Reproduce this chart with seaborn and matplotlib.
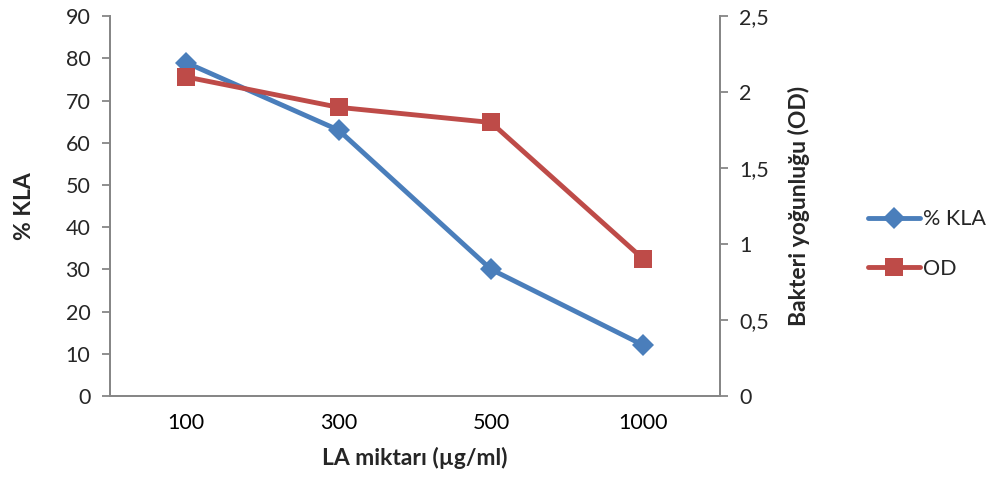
import matplotlib
matplotlib.use("Agg")
import matplotlib.pyplot as plt
from matplotlib.ticker import FixedLocator, NullFormatter, FuncFormatter
import seaborn as sns
import pandas as pd

# LA amounts (µg/ml) and measured values
categories = ["100", "300", "500", "1000"]
kla_values = [79, 63, 30, 12]
od_values = [2.1, 1.9, 1.8, 0.9]

sns.set_theme(style="white")
plt.rcParams["font.family"] = ["Lato", "DejaVu Sans"]

df = pd.DataFrame({"pos": range(len(categories)), "kla": kla_values, "od": od_values})

blue = "#4a7ebb"
red = "#be4b48"
axis_grey = "#868686"
tick_fs = 15.5
label_fs = 16.5

fig = plt.figure(figsize=(10.08, 4.9), dpi=100)
ax = fig.add_axes([0.109, 0.192, 0.605, 0.775])
ax2 = ax.twinx()

sns.lineplot(data=df, x="pos", y="kla", ax=ax, color=blue, linewidth=3.5,
             marker="D", markersize=11, markeredgewidth=0, label="% KLA", legend=False)
sns.lineplot(data=df, x="pos", y="od", ax=ax2, color=red, linewidth=3.5,
             marker="s", markersize=13, markeredgewidth=0, label="OD", legend=False)

ax.set_xlim(-0.5, len(categories) - 0.5)
ax.set_ylim(0, 90)
ax2.set_ylim(0, 2.5)
ax.set_yticks(range(0, 91, 10))
ax2.set_yticks([0, 0.5, 1, 1.5, 2, 2.5])
ax2.yaxis.set_major_formatter(FuncFormatter(lambda v, p: f"{v:g}".replace(".", ",")))

# category labels centred, tick marks on the boundaries
ax.xaxis.set_major_locator(FixedLocator([i - 0.5 for i in range(len(categories) + 1)]))
ax.xaxis.set_major_formatter(NullFormatter())
ax.xaxis.set_minor_locator(FixedLocator(list(range(len(categories)))))
ax.set_xticklabels(categories, minor=True)
ax.tick_params(axis="x", which="minor", length=0, pad=12, labelsize=tick_fs, labelcolor="black")
ax.tick_params(axis="x", which="major", direction="out", length=6, width=1.3, color=axis_grey)

ax.tick_params(axis="y", direction="out", length=6, width=1.3, color=axis_grey,
               labelsize=tick_fs, pad=8, left=True)
ax2.tick_params(axis="y", direction="out", length=6, width=1.3, color=axis_grey,
                labelsize=tick_fs, pad=8, right=True)

for a in (ax, ax2):
    a.spines["top"].set_visible(False)
    for side in ("left", "right", "bottom"):
        a.spines[side].set_color(axis_grey)
        a.spines[side].set_linewidth(1.3)
    a.grid(False)

ax.set_xlabel("LA miktarı (µg/ml)", fontsize=label_fs, fontweight="bold", labelpad=10)
ax.set_ylabel("% KLA", fontsize=label_fs, fontweight="bold", labelpad=22)
ax2.set_ylabel("Bakteri yoğunluğu (OD)", fontsize=label_fs, fontweight="bold", labelpad=14)

handles = ax.get_lines()[:1] + ax2.get_lines()[:1]
fig.legend(handles, ["% KLA", "OD"], loc="center left", bbox_to_anchor=(0.857, 0.502),
           frameon=False, fontsize=tick_fs, handlelength=2.4, handletextpad=0.15,
           labelspacing=1.35, borderpad=0.2, borderaxespad=0)

fig.savefig("out.png", dpi=100)
